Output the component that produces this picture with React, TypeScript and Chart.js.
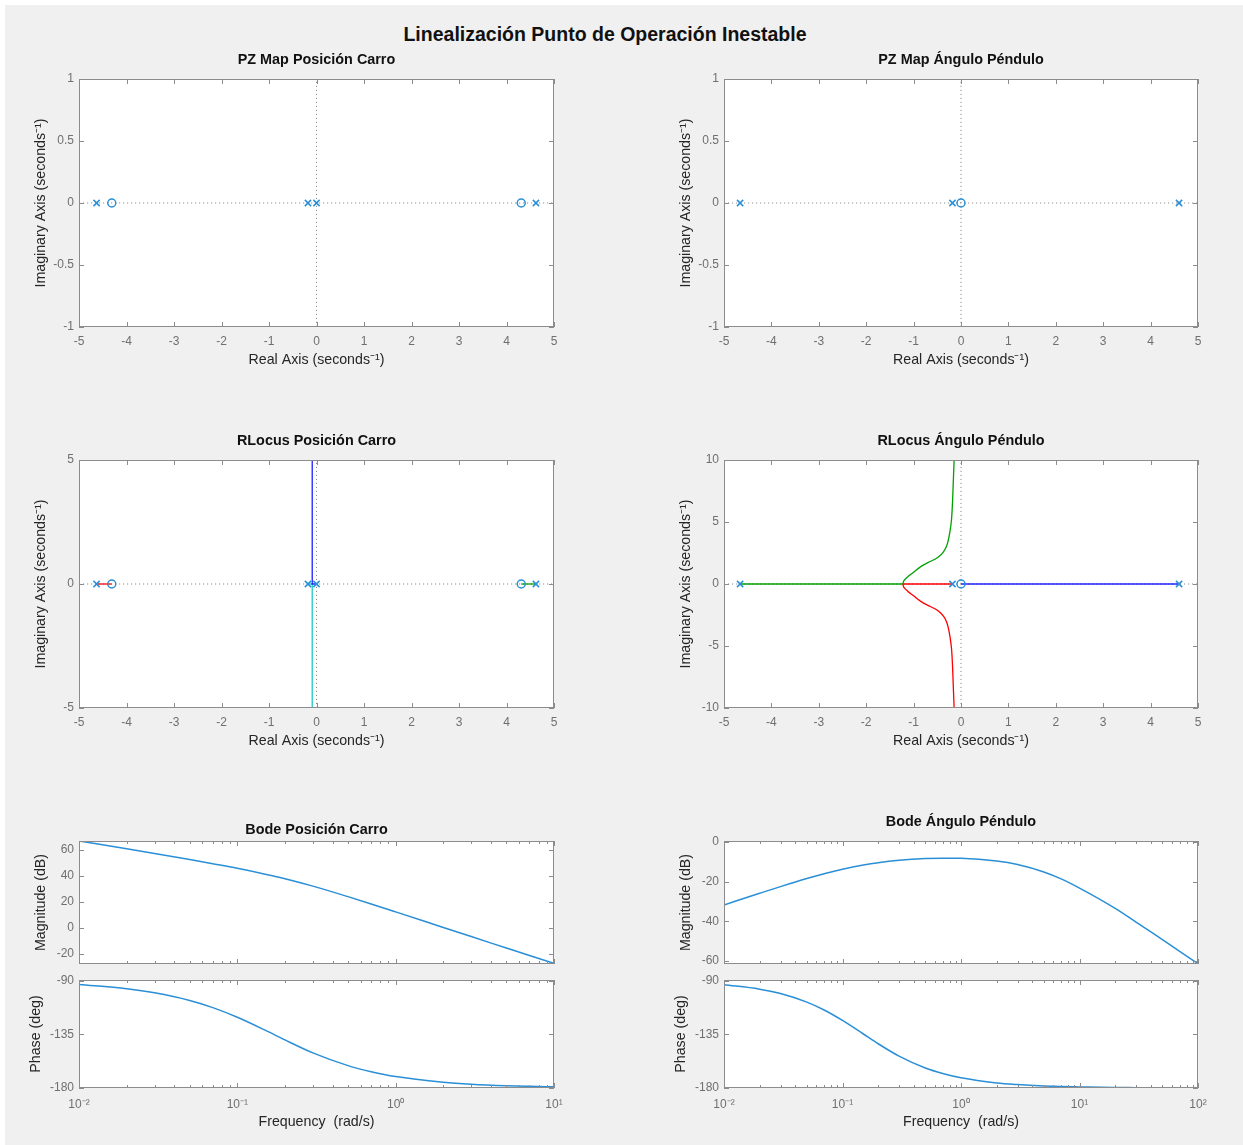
import React, { useEffect, useRef } from 'react';
import { Chart, registerables } from 'chart.js';

Chart.register(...registerables);

// ---------- Text ----------
const FIG_TITLE = 'Linealización Punto de Operación Inestable';
const TITLE_PZ_CARRO = 'PZ Map Posición Carro';
const TITLE_PZ_PEND = 'PZ Map Ángulo Péndulo';
const TITLE_RL_CARRO = 'RLocus Posición Carro';
const TITLE_RL_PEND = 'RLocus Ángulo Péndulo';
const TITLE_BODE_CARRO = 'Bode Posición Carro';
const TITLE_BODE_PEND = 'Bode Ángulo Péndulo';
const LABEL_REAL = 'Real Axis (seconds\u207B\u00B9)';
const LABEL_IMAG = 'Imaginary Axis (seconds\u207B\u00B9)';
const LABEL_MAG = 'Magnitude (dB)';
const LABEL_PHASE = 'Phase (deg)';
const LABEL_FREQ = 'Frequency  (rad/s)';

// ---------- Tick values ----------
const RE_TICKS = [-5, -4, -3, -2, -1, 0, 1, 2, 3, 4, 5];
const PZ_IM_TICKS = [-1, -0.5, 0, 0.5, 1];
const RL_CARRO_IM_TICKS = [-5, 0, 5];
const RL_PEND_IM_TICKS = [-10, -5, 0, 5, 10];
const MAG_CARRO_TICKS = [-20, 0, 20, 40, 60];
const MAG_PEND_TICKS = [-60, -40, -20, 0];
const PHASE_TICKS = [-180, -135, -90];
const DECADES_CARRO = [0.01, 0.1, 1, 10];
const DECADE_LABELS_CARRO = ['10\u207B\u00B2', '10\u207B\u00B9', '10\u2070', '10\u00B9'];
const DECADES_PEND = [0.01, 0.1, 1, 10, 100];
const DECADE_LABELS_PEND = ['10\u207B\u00B2', '10\u207B\u00B9', '10\u2070', '10\u00B9', '10\u00B2'];
const MINOR_MULT = [2, 3, 4, 5, 6, 7, 8, 9];

// ---------- Pole / zero data ----------
const CARRO_POLES = [-4.63, -0.18, 0, 4.62];
const CARRO_ZEROS = [-4.31, 4.31];
const PEND_POLES = [-4.66, -0.18, 4.6];
const PEND_ZEROS = [0];

// ---------- Root locus: Posición Carro ----------
const RLC_RED_X = [-4.63, -4.31];
const RLC_RED_Y = [0, 0];
const RLC_GREEN_X = [4.62, 4.31];
const RLC_GREEN_Y = [0, 0];
const RLC_BLUE_X = [0, -0.09, -0.09];
const RLC_BLUE_Y = [0, 0, 6];
const RLC_CYAN_X = [-0.18, -0.09, -0.09];
const RLC_CYAN_Y = [0, 0, -6];

// ---------- Root locus: Ángulo Péndulo ----------
const RLP_GREEN_AXIS_X = [-4.66, -1.23];
const RLP_RED_AXIS_X = [-0.18, -1.23];
const RLP_BLUE_AXIS_X = [4.6, 0];
const RLP_GREEN_X = [-1.23, -1.2, -1.12, -1.0, -0.85, -0.7, -0.55, -0.44, -0.37, -0.31, -0.27, -0.23, -0.2, -0.18, -0.165, -0.15, -0.14];
const RLP_GREEN_Y = [0, 0.3, 0.6, 0.95, 1.4, 1.72, 2.0, 2.3, 2.6, 3.0, 3.5, 4.3, 5.2, 6.5, 8.0, 9.5, 10.5];
const RLP_RED_X = [-1.23, -1.2, -1.12, -1.0, -0.85, -0.7, -0.55, -0.44, -0.37, -0.31, -0.27, -0.23, -0.2, -0.18, -0.165, -0.15, -0.14];
const RLP_RED_Y = [0, -0.3, -0.6, -0.95, -1.4, -1.72, -2.0, -2.3, -2.6, -3.0, -3.5, -4.3, -5.2, -6.5, -8.0, -9.5, -10.5];

// ---------- Bode: Posición Carro ----------
const BODE_CARRO_FREQ = [0.01, 0.02, 0.03, 0.05, 0.07, 0.1, 0.15, 0.2, 0.3, 0.5, 0.7, 1, 2, 3, 5, 7, 10];
const BODE_CARRO_MAG = [67, 61, 57.4, 52.7, 49.5, 46, 41.5, 38, 32.3, 24.2, 18.6, 12.5, 0.5, -6.5, -15.3, -21.1, -27];
const BODE_CARRO_PHASE = [-93, -96.6, -100, -106.4, -112.4, -120.5, -131.4, -139.6, -150.5, -161.2, -166.3, -170.4, -175.1, -176.8, -178.1, -178.6, -179];

// ---------- Bode: Ángulo Péndulo ----------
const BODE_PEND_FREQ = [0.01, 0.02, 0.03, 0.05, 0.07, 0.1, 0.15, 0.2, 0.3, 0.5, 0.7, 1, 2, 3, 5, 7, 10, 20, 30, 50, 70, 100];
const BODE_PEND_MAG = [-31.8, -25.9, -22.52, -18.46, -16.01, -13.72, -11.61, -10.43, -9.23, -8.36, -8.16, -8.25, -9.6, -11.36, -15.13, -18.63, -23.28, -33.5, -40.4, -49.3, -55.2, -61.4];
const BODE_PEND_PHASE = [-93.2, -96.9, -100.6, -107.8, -114.4, -123.2, -134.6, -142.8, -153.2, -163.2, -167.8, -171.4, -175.7, -177.1, -178.3, -178.8, -179.1, -179.6, -179.7, -179.8, -179.85, -179.9];

// ---------- Style ----------
const FONT = '"Liberation Sans", Arial, Helvetica, sans-serif';
const MARK = '#2a8fd6';
const BOX = '#8c8c8c';
const TICK_TEXT = '#6f6f6f';
const LABEL_TEXT = '#262626';
const DOT = '#8f8f8f';
const TICK_SIZE = 12;
const LABEL_SIZE = 14.2;

const pts = (xs: number[], ys: number[]) => xs.map((x, i) => ({ x, y: ys[i] }));
const zeroLine = (xs: number[]) => xs.map((x) => ({ x, y: 0 }));

const matlabBox = {
  id: 'matlabBox',
  beforeDraw(chart: any) {
    const { ctx, chartArea } = chart;
    const { left, right, top, bottom } = chartArea;
    ctx.save();
    ctx.fillStyle = '#ffffff';
    ctx.fillRect(left, top, right - left, bottom - top);
    ctx.restore();
  },
  afterDatasetsDraw(chart: any, _args: any, opts: any) {
    const { ctx, chartArea } = chart;
    const { left, right, top, bottom } = chartArea;
    ctx.save();
    ctx.strokeStyle = BOX;
    ctx.lineWidth = 1;
    ctx.beginPath();
    const xs = chart.scales.x;
    const ys = chart.scales.y;
    xs.ticks.forEach((t: any) => {
      const p = Math.round(xs.getPixelForValue(t.value)) + 0.5;
      if (p < left - 1 || p > right + 1) return;
      const len = t.minor ? 3 : 5;
      ctx.moveTo(p, bottom);
      ctx.lineTo(p, bottom - len);
      ctx.moveTo(p, top);
      ctx.lineTo(p, top + len);
    });
    ys.ticks.forEach((t: any) => {
      const p = Math.round(ys.getPixelForValue(t.value)) + 0.5;
      if (p < top - 1 || p > bottom + 1) return;
      ctx.moveTo(left, p);
      ctx.lineTo(left + 5, p);
      ctx.moveTo(right, p);
      ctx.lineTo(right - 5, p);
    });
    ctx.stroke();
    ctx.strokeRect(left + 0.5, top + 0.5, right - left - 1, bottom - top - 1);
    if (opts && opts.title) {
      ctx.fillStyle = '#111111';
      ctx.font = `bold 14.4px ${FONT}`;
      ctx.textAlign = 'center';
      ctx.textBaseline = 'middle';
      ctx.fillText(opts.title, (left + right) / 2, top - opts.titleOffset);
    }
    ctx.restore();
  },
};

type Tick = { value: number; text: string; minor?: boolean };

const linTicks = (vals: number[]): Tick[] => vals.map((v) => ({ value: v, text: String(v) }));
const logTicks = (decades: number[], labels: string[]): Tick[] => {
  const out: Tick[] = [];
  decades.forEach((d, i) => {
    out.push({ value: d, text: labels[i] });
    if (i < decades.length - 1) MINOR_MULT.forEach((m) => out.push({ value: d * m, text: '', minor: true }));
  });
  return out;
};

type Opts = {
  datasets: any[];
  xType: 'linear' | 'logarithmic';
  xMin: number; xMax: number; yMin: number; yMax: number;
  xTicks: Tick[]; yTicks: Tick[];
  xLabels: boolean; xTitle?: string; xTickPad: number; xTitlePad: number;
  yTitle: string; yTitlePad: number;
  title?: string; titleOffset?: number;
  padTop: number; padRight: number; yW: number; xH: number;
};

const makeConfig = (o: Opts): any => ({
  type: 'scatter',
  data: { datasets: o.datasets },
  plugins: [matlabBox],
  options: {
    responsive: false,
    animation: false,
    devicePixelRatio: 1,
    events: [],
    layout: { padding: { top: o.padTop, right: o.padRight, left: 0, bottom: 0 } },
    plugins: {
      legend: { display: false },
      tooltip: { enabled: false },
      title: { display: false },
      matlabBox: { title: o.title, titleOffset: o.titleOffset },
    },
    scales: {
      x: {
        type: o.xType,
        position: 'bottom',
        min: o.xMin,
        max: o.xMax,
        grid: { display: false, drawTicks: false },
        border: { display: false },
        afterBuildTicks: (s: any) => { s.ticks = o.xTicks.map((t) => ({ ...t })); },
        afterFit: (s: any) => { s.height = o.xH; },
        ticks: {
          display: o.xLabels,
          autoSkip: false,
          maxRotation: 0,
          minRotation: 0,
          padding: o.xTickPad,
          color: TICK_TEXT,
          font: { family: FONT, size: TICK_SIZE },
          callback: (_v: any, i: number, ticks: any[]) => (ticks[i] && ticks[i].text) || '',
        },
        title: {
          display: !!o.xTitle,
          text: o.xTitle || '',
          color: LABEL_TEXT,
          font: { family: FONT, size: LABEL_SIZE },
          padding: { top: 0, bottom: o.xTitlePad },
        },
      },
      y: {
        type: 'linear',
        position: 'left',
        min: o.yMin,
        max: o.yMax,
        grid: { display: false, drawTicks: false },
        border: { display: false },
        afterBuildTicks: (s: any) => { s.ticks = o.yTicks.map((t) => ({ ...t })); },
        afterFit: (s: any) => { s.width = o.yW; },
        ticks: {
          autoSkip: false,
          padding: 5,
          color: TICK_TEXT,
          font: { family: FONT, size: TICK_SIZE },
          callback: (_v: any, i: number, ticks: any[]) => (ticks[i] && ticks[i].text) || '',
        },
        title: {
          display: true,
          text: o.yTitle,
          color: LABEL_TEXT,
          font: { family: FONT, size: LABEL_SIZE },
          padding: { top: o.yTitlePad, bottom: 0 },
        },
      },
    },
  },
});

const dotted = (data: any[]) => ({
  data, showLine: true, borderColor: DOT, borderWidth: 1, borderDash: [1.2, 2.8],
  pointRadius: 0, order: 10,
});
const axisDots = (yMin: number, yMax: number) => [
  dotted([{ x: -5, y: 0 }, { x: 5, y: 0 }]),
  dotted([{ x: 0, y: yMin }, { x: 0, y: yMax }]),
];
const markerSets = (poles: number[], zeros: number[]) => [
  {
    data: zeroLine(poles), showLine: false, pointStyle: 'crossRot', pointRadius: 4.4,
    pointBorderWidth: 1.5, pointBorderColor: MARK, pointBackgroundColor: MARK, order: 0,
  },
  {
    data: zeroLine(zeros), showLine: false, pointStyle: 'circle', pointRadius: 4,
    pointBorderWidth: 1.5, pointBorderColor: MARK, pointBackgroundColor: 'rgba(0,0,0,0)', order: 0,
  },
];
const branch = (data: any[], color: string, tension = 0) => ({
  data, showLine: true, borderColor: color, borderWidth: 1.3, pointRadius: 0, tension, order: 5,
});
const bodeLine = (xs: number[], ys: number[]) => ({
  data: pts(xs, ys), showLine: true, borderColor: MARK, borderWidth: 1.5, pointRadius: 0,
  cubicInterpolationMode: 'monotone', order: 5,
});

type Spec = { key: string; left: number; top: number; width: number; height: number; config: any };

const PZ_COMMON = {
  xType: 'linear' as const, xMin: -5, xMax: 5, xTicks: linTicks(RE_TICKS), xLabels: true,
  xTitle: LABEL_REAL, xTickPad: 7, xTitlePad: 3.6, yTitle: LABEL_IMAG, yTitlePad: 13.6,
  titleOffset: 19, padTop: 39, padRight: 20, yW: 60, xH: 45,
};

const SPECS: Spec[] = [
  {
    key: 'pz1', left: 19, top: 40, width: 555, height: 332,
    config: makeConfig({
      ...PZ_COMMON, yMin: -1, yMax: 1, yTicks: linTicks(PZ_IM_TICKS), title: TITLE_PZ_CARRO,
      datasets: [...markerSets(CARRO_POLES, CARRO_ZEROS), ...axisDots(-1, 1)],
    }),
  },
  {
    key: 'pz2', left: 664, top: 40, width: 554, height: 332,
    config: makeConfig({
      ...PZ_COMMON, yMin: -1, yMax: 1, yTicks: linTicks(PZ_IM_TICKS), title: TITLE_PZ_PEND,
      datasets: [...markerSets(PEND_POLES, PEND_ZEROS), ...axisDots(-1, 1)],
    }),
  },
  {
    key: 'rl1', left: 19, top: 421, width: 555, height: 332,
    config: makeConfig({
      ...PZ_COMMON, yMin: -5, yMax: 5, yTicks: linTicks(RL_CARRO_IM_TICKS), title: TITLE_RL_CARRO,
      datasets: [
        ...markerSets(CARRO_POLES, CARRO_ZEROS),
        branch(pts(RLC_RED_X, RLC_RED_Y), '#ff0000'),
        branch(pts(RLC_GREEN_X, RLC_GREEN_Y), '#00a000'),
        branch(pts(RLC_BLUE_X, RLC_BLUE_Y), '#2020ff'),
        branch(pts(RLC_CYAN_X, RLC_CYAN_Y), '#20c8c8'),
        ...axisDots(-5, 5),
      ],
    }),
  },
  {
    key: 'rl2', left: 664, top: 421, width: 554, height: 332,
    config: makeConfig({
      ...PZ_COMMON, yMin: -10, yMax: 10, yTicks: linTicks(RL_PEND_IM_TICKS), title: TITLE_RL_PEND,
      datasets: [
        ...markerSets(PEND_POLES, PEND_ZEROS),
        branch(zeroLine(RLP_GREEN_AXIS_X), '#00a000'),
        branch(zeroLine(RLP_RED_AXIS_X), '#ff0000'),
        branch(zeroLine(RLP_BLUE_AXIS_X), '#2020ff'),
        branch(pts(RLP_GREEN_X, RLP_GREEN_Y), '#00a000', 0.3),
        branch(pts(RLP_RED_X, RLP_RED_Y), '#ff0000', 0.3),
        ...axisDots(-10, 10),
      ],
    }),
  },
  {
    key: 'bm1', left: 19, top: 811, width: 555, height: 169,
    config: makeConfig({
      xType: 'logarithmic', xMin: 0.01, xMax: 10, xTicks: logTicks(DECADES_CARRO, DECADE_LABELS_CARRO),
      xLabels: false, xTickPad: 9, xTitlePad: 3,
      yMin: -27.6, yMax: 67, yTicks: linTicks(MAG_CARRO_TICKS), yTitle: LABEL_MAG, yTitlePad: 13.6,
      title: TITLE_BODE_CARRO, titleOffset: 11, padTop: 30, padRight: 20, yW: 60, xH: 16,
      datasets: [bodeLine(BODE_CARRO_FREQ, BODE_CARRO_MAG)],
    }),
  },
  {
    key: 'bp1', left: 19, top: 966, width: 555, height: 167,
    config: makeConfig({
      xType: 'logarithmic', xMin: 0.01, xMax: 10, xTicks: logTicks(DECADES_CARRO, DECADE_LABELS_CARRO),
      xLabels: true, xTitle: LABEL_FREQ, xTickPad: 9, xTitlePad: 2.6,
      yMin: -180, yMax: -89.2, yTicks: linTicks(PHASE_TICKS), yTitle: LABEL_PHASE, yTitlePad: 8.6,
      padTop: 14, padRight: 20, yW: 60, xH: 45,
      datasets: [bodeLine(BODE_CARRO_FREQ, BODE_CARRO_PHASE)],
    }),
  },
  {
    key: 'bm2', left: 664, top: 811, width: 554, height: 169,
    config: makeConfig({
      xType: 'logarithmic', xMin: 0.01, xMax: 100, xTicks: logTicks(DECADES_PEND, DECADE_LABELS_PEND),
      xLabels: false, xTickPad: 9, xTitlePad: 3,
      yMin: -61.6, yMax: 0.5, yTicks: linTicks(MAG_PEND_TICKS), yTitle: LABEL_MAG, yTitlePad: 13.6,
      title: TITLE_BODE_PEND, titleOffset: 19, padTop: 30, padRight: 20, yW: 60, xH: 16,
      datasets: [bodeLine(BODE_PEND_FREQ, BODE_PEND_MAG)],
    }),
  },
  {
    key: 'bp2', left: 664, top: 966, width: 554, height: 167,
    config: makeConfig({
      xType: 'logarithmic', xMin: 0.01, xMax: 100, xTicks: logTicks(DECADES_PEND, DECADE_LABELS_PEND),
      xLabels: true, xTitle: LABEL_FREQ, xTickPad: 9, xTitlePad: 2.6,
      yMin: -180, yMax: -89.2, yTicks: linTicks(PHASE_TICKS), yTitle: LABEL_PHASE, yTitlePad: 8.6,
      padTop: 14, padRight: 20, yW: 60, xH: 45,
      datasets: [bodeLine(BODE_PEND_FREQ, BODE_PEND_PHASE)],
    }),
  },
];

export default function App() {
  const refs = useRef<(HTMLCanvasElement | null)[]>([]);
  useEffect(() => {
    const charts = SPECS.map((s, i) => new Chart(refs.current[i] as HTMLCanvasElement, s.config));
    return () => charts.forEach((c) => c.destroy());
  }, []);
  return (
    <div style={{ position: 'absolute', left: 0, top: 0, width: 1243, height: 1145, background: '#ffffff', overflow: 'hidden' }}>
      <div style={{ position: 'absolute', left: 5, top: 5, right: 0, bottom: 0, background: '#f0f0f0' }} />
      <div
        style={{
          position: 'absolute', left: 0, top: 22, width: 1210, textAlign: 'center',
          fontFamily: FONT, fontWeight: 'bold', fontSize: 19.5, lineHeight: '24px', color: '#111111',
        }}
      >
        {FIG_TITLE}
      </div>
      {SPECS.map((s, i) => (
        <canvas
          key={s.key}
          ref={(el) => { refs.current[i] = el; }}
          width={s.width}
          height={s.height}
          style={{ position: 'absolute', left: s.left, top: s.top, width: s.width, height: s.height }}
        />
      ))}
    </div>
  );
}
